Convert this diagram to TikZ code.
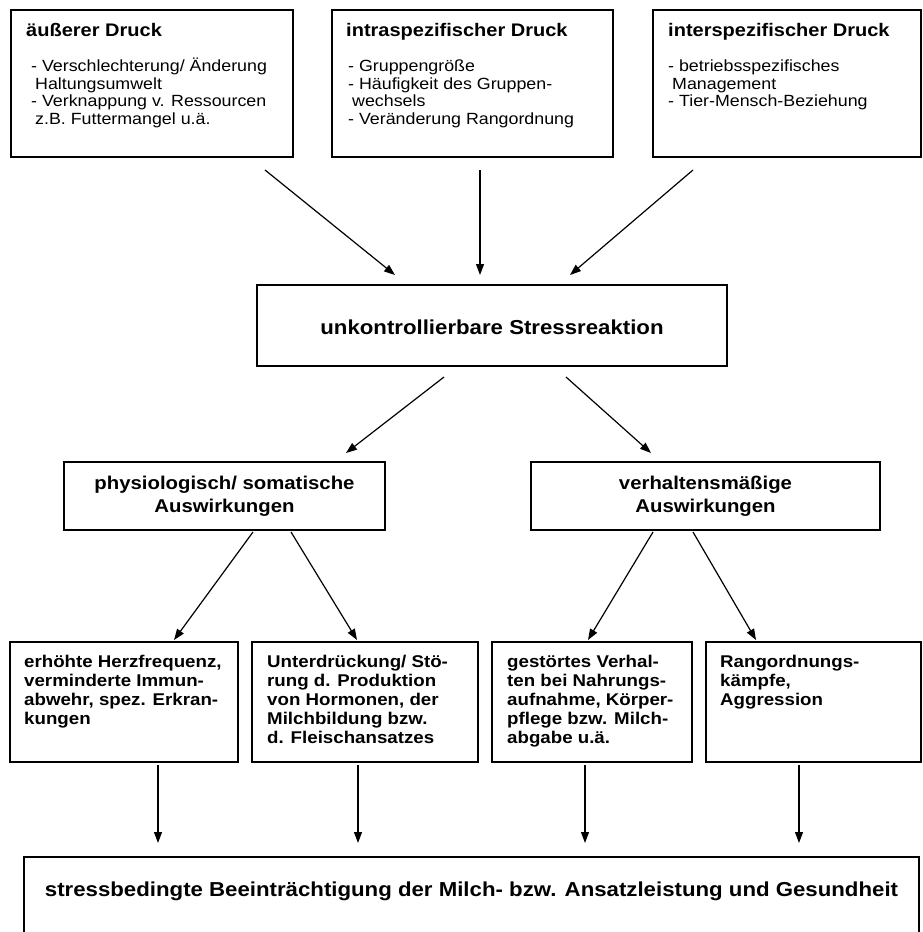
\documentclass[tikz,border=0pt]{standalone}
\usepackage{fontspec}
\setmainfont{Liberation Sans}[FakeStretch=1.1]
\usetikzlibrary{arrows.meta,calc}
\begin{document}
\begin{tikzpicture}[x=1pt,y=-1pt,
  box/.style={draw, line width=1.3pt, inner sep=0pt},
  arr/.style={line width=1.2pt, -{Triangle[length=11pt,width=8pt]}},
  ttl/.style={anchor=base west, inner sep=0pt, font=\fontsize{18.2}{20}\selectfont\bfseries},
  lst/.style={anchor=north west, inner sep=0pt, align=left, font=\fontsize{16.2}{17.8}\selectfont},
  midtxt/.style={inner sep=0pt, align=center, font=\fontsize{20.2}{23}\selectfont\bfseries},
  lvtwo/.style={inner sep=0pt, align=center, font=\fontsize{18.5}{23}\selectfont\bfseries},
  lvthree/.style={anchor=north west, inner sep=0pt, align=left, font=\fontsize{17}{19}\selectfont\bfseries}]
\useasboundingbox (0,0) rectangle (923,932);
\clip (0,0) rectangle (923,932);

% top boxes
\node[box, minimum width=282pt, minimum height=147pt] (b1) at (152,83.5) {};
\node[box, minimum width=281pt, minimum height=147pt] (b2) at (472.5,83.5) {};
\node[box, minimum width=268pt, minimum height=147pt] (b3) at (787,83.5) {};

\node[ttl] (b1t) at (26,36.7) {äußerer Druck};
\node[lst] (b1l) at (31,55) {\rule{0pt}{16pt}- Verschlechterung/ Änderung\\\hspace*{4pt}Haltungsumwelt\\- Verknappung v. Ressourcen\\\hspace*{4pt}z.B. Futtermangel u.ä.};

\node[ttl] (b2t) at (346,36.7) {intraspezifischer Druck};
\node[lst] (b2l) at (348,55) {\rule{0pt}{16pt}- Gruppengröße\\- Häufigkeit des Gruppen-\\\hspace*{4pt}wechsels\\- Veränderung Rangordnung};

\node[ttl] (b3t) at (668,36.7) {interspezifischer Druck};
\node[lst] (b3l) at (668,55) {\rule{0pt}{16pt}- betriebsspezifisches\\\hspace*{4pt}Management\\- Tier-Mensch-Beziehung};

% middle box
\node[box, minimum width=470pt, minimum height=81pt] (mid) at (492,325.5) {};
\node[midtxt] (midt) at (492,327) {unkontrollierbare Stressreaktion};

% level 2
\node[box, minimum width=321pt, minimum height=68pt] (l) at (224.5,496) {};
\node[lvtwo] (lt) at (224.5,496) {physiologisch/ somatische\\Auswirkungen};
\node[box, minimum width=349pt, minimum height=68pt] (r) at (705.5,496) {};
\node[lvtwo] (rt) at (705.5,496) {verhaltensmäßige\\Auswirkungen};

% level 3
\node[box, minimum width=228pt, minimum height=120pt] (ca) at (124,702) {};
\node[box, minimum width=226pt, minimum height=120pt] (cb) at (365,702) {};
\node[box, minimum width=200pt, minimum height=120pt] (cc) at (592,702) {};
\node[box, minimum width=215pt, minimum height=120pt] (cd) at (813.5,702) {};

\node[lvthree] (cat) at (24,651) {\rule{0pt}{16pt}erhöhte Herzfrequenz,\\verminderte Immun-\\abwehr, spez. Erkran-\\kungen};
\node[lvthree] (cbt) at (267,651) {\rule{0pt}{16pt}Unterdrückung/ Stö-\\rung d. Produktion\\von Hormonen, der\\Milchbildung bzw.\\d. Fleischansatzes};
\node[lvthree] (cct) at (507,651) {\rule{0pt}{16pt}gestörtes Verhal-\\ten bei Nahrungs-\\aufnahme, Körper-\\pflege bzw. Milch-\\abgabe u.ä.};
\node[lvthree] (cdt) at (720,651) {\rule{0pt}{16pt}Rangordnungs-\\kämpfe,\\Aggression};

% bottom box
\draw[line width=1.3pt] (24,960) -- (24,857) coordinate (bnw) -- (919,857) coordinate (bne) -- (919,960);
\node[midtxt] (bt) at (471.5,891) {stressbedingte Beeinträchtigung der Milch- bzw. Ansatzleistung und Gesundheit};

% connector coordinates
\coordinate (s1) at (265,170); \coordinate (e1) at (395,275);
\coordinate (s2) at (480,170); \coordinate (e2) at (480,275);
\coordinate (s3) at (693,170); \coordinate (e3) at (570,275);
\coordinate (s4) at (444,377); \coordinate (e4) at (346,453);
\coordinate (s5) at (566,377); \coordinate (e5) at (651,453);
\coordinate (s6) at (253,532); \coordinate (e6) at (174,640);
\coordinate (s7) at (291,532); \coordinate (e7) at (357,640);
\coordinate (s8) at (653,532); \coordinate (e8) at (588,640);
\coordinate (s9) at (693,532); \coordinate (e9) at (756,640);
\coordinate (s10) at (158,765); \coordinate (e10) at (158,843);
\coordinate (s11) at (358,765); \coordinate (e11) at (358,843);
\coordinate (s12) at (585,765); \coordinate (e12) at (585,843);
\coordinate (s13) at (799,765); \coordinate (e13) at (799,843);

\foreach \i in {1,...,13} {\draw[arr] (s\i) -- (e\i);}
\end{tikzpicture}
\end{document}
